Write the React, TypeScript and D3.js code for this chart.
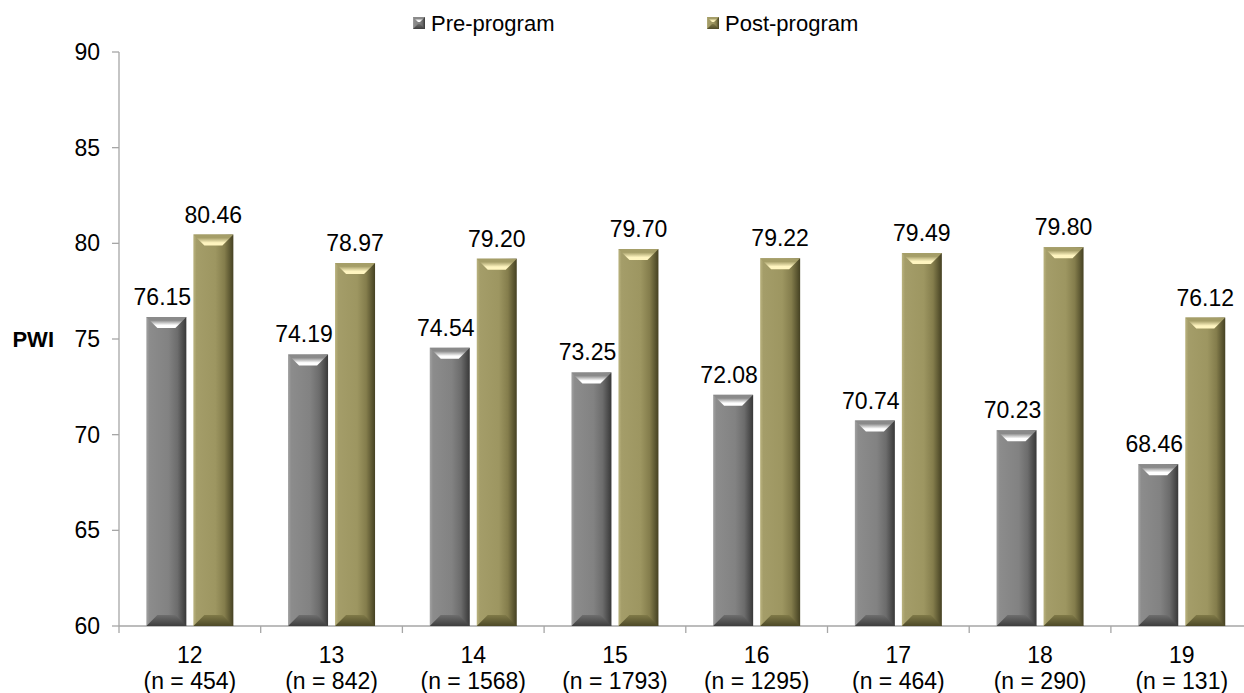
import React from "react";
import * as d3 from "d3";

const categories = ["12", "13", "14", "15", "16", "17", "18", "19"];
const sampleSizes = ["454", "842", "1568", "1793", "1295", "464", "290", "131"];
const preValues = [76.15, 74.19, 74.54, 73.25, 72.08, 70.74, 70.23, 68.46];
const postValues = [80.46, 78.97, 79.2, 79.7, 79.22, 79.49, 79.8, 76.12];
const yTicks = [60, 65, 70, 75, 80, 85, 90];
const seriesNames = ["Pre-program", "Post-program"];

const W = 1244;
const H = 693;
const axisX = 119;
const plotTop = 52;
const plotBottom = 626;
const FONT = "'Liberation Sans', Arial, sans-serif";

type Palette = { stops: [number, string][]; top: string; topHi: string; bottom: string; bottomDark: string };
const palettes: Palette[] = [
  {
    stops: [[0, "#a2a2a2"], [0.08, "#8c8c8c"], [0.55, "#828282"], [0.78, "#6c6c6c"], [1, "#383838"]],
    top: "#8a8a8a", topHi: "#ffffff", bottom: "#6e6e6e", bottomDark: "#3e3e3e",
  },
  {
    stops: [[0, "#bab37f"], [0.08, "#a49d69"], [0.55, "#9d9661"], [0.78, "#847d4c"], [1, "#454122"]],
    top: "#a59e68", topHi: "#fff5c0", bottom: "#807a48", bottomDark: "#4e4a28",
  },
];

function Bar({ x, y, w, h, id, bev }: { x: number; y: number; w: number; h: number; id: string; bev: number }) {
  const b = Math.min(bev, h / 2, w / 2);
  const x0 = x, x1 = x + w, y0 = y, y1 = y + h;
  return (
    <g>
      <rect x={x0} y={y0} width={w} height={h} fill={`url(#face-${id})`} />
      <polygon points={`${x0},${y0} ${x1},${y0} ${x1 - b},${y0 + b} ${x0 + b},${y0 + b}`} fill={`url(#top-${id})`} />
      <polygon points={`${x0},${y1} ${x1},${y1} ${x1 - b},${y1 - b} ${x0 + b},${y1 - b}`} fill={`url(#bot-${id})`} />
    </g>
  );
}

export default function App() {
  const x = d3.scaleBand<string>().domain(categories).range([axisX, axisX + 8 * 141.7]).paddingInner(0).paddingOuter(0);
  const y = d3.scaleLinear().domain([60, 90]).range([plotBottom, plotTop]);
  const barW = 40;
  const gap = 7;
  const series = [preValues, postValues];

  return (
    <div style={{ position: "fixed", left: 0, top: 0, width: W, height: H, background: "#fff" }}>
      <svg width={W} height={H} style={{ display: "block" }} fontFamily={FONT}>
        <defs>
          {palettes.map((p, i) => (
            <React.Fragment key={i}>
              <linearGradient id={`face-${i}`} x1="0" x2="1" y1="0" y2="0">
                {p.stops.map(([o, c]) => (
                  <stop key={o} offset={o} stopColor={c} />
                ))}
              </linearGradient>
              <linearGradient id={`top-${i}`} x1="0" x2="0" y1="0" y2="1">
                <stop offset="0" stopColor={p.top} />
                <stop offset="0.3" stopColor={p.top} />
                <stop offset="0.75" stopColor={p.topHi} />
                <stop offset="1" stopColor={p.topHi} />
              </linearGradient>
              <linearGradient id={`bot-${i}`} x1="0" x2="0" y1="0" y2="1">
                <stop offset="0" stopColor={p.bottom} />
                <stop offset="1" stopColor={p.bottomDark} />
              </linearGradient>
            </React.Fragment>
          ))}
        </defs>

        {/* axes */}
        <line x1={axisX} x2={axisX} y1={plotTop} y2={plotBottom} stroke="#a6a6a6" strokeWidth={1.3} />
        <line x1={axisX} x2={W} y1={plotBottom} y2={plotBottom} stroke="#a6a6a6" strokeWidth={1.3} />
        {yTicks.map((t) => (
          <g key={t}>
            <line x1={axisX - 7} x2={axisX} y1={y(t)} y2={y(t)} stroke="#a6a6a6" strokeWidth={1.3} />
            <text x={100} y={y(t)} dy="0.35em" textAnchor="end" fontSize={23} fill="#000">{t}</text>
          </g>
        ))}
        {categories.map((c, i) => (
          <g key={c}>
            <line x1={x(c)!} x2={x(c)!} y1={plotBottom} y2={plotBottom + 7} stroke="#a6a6a6" strokeWidth={1.3} />
            <text x={x(c)! + x.bandwidth() / 2} y={663} textAnchor="middle" fontSize={23}>{c}</text>
            <text x={x(c)! + x.bandwidth() / 2} y={689} textAnchor="middle" fontSize={23}>{`(n = ${sampleSizes[i]})`}</text>
          </g>
        ))}
        <text x={54} y={y(75)} dy="0.35em" textAnchor="end" fontSize={22} fontWeight="bold">PWI</text>

        {/* bars */}
        {categories.map((c, i) => {
          const cx = x(c)! + x.bandwidth() / 2;
          return series.map((vals, s) => {
            const bx = s === 0 ? cx - gap / 2 - barW : cx + gap / 2;
            const top = y(vals[i]);
            return (
              <g key={`${c}-${s}`}>
                <Bar x={bx} y={top} w={barW} h={plotBottom - top} id={String(s)} bev={11} />
                <text x={bx + barW / 2 - (s === 0 ? 4 : 0)} y={top - 12} textAnchor="middle" fontSize={23}>
                  {vals[i].toFixed(2)}
                </text>
              </g>
            );
          });
        })}

        {/* legend */}
        {seriesNames.map((n, s) => {
          const lx = s === 0 ? 413 : 707;
          return (
            <g key={n}>
              <Bar x={lx} y={17} w={12} h={12} id={String(s)} bev={5} />
              <text x={lx + 18} y={23} dy="0.35em" fontSize={22}>{n}</text>
            </g>
          );
        })}
      </svg>
    </div>
  );
}
